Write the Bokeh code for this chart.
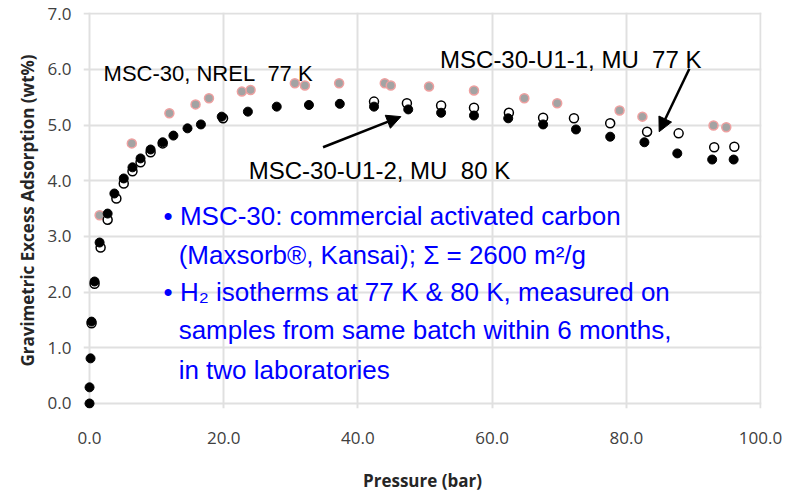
import math
from bokeh.plotting import figure
from bokeh.models import Range1d, FixedTicker, NumeralTickFormatter, Arrow, NormalHead, Label
from bokeh.embed import file_html
from bokeh.resources import INLINE

# ---- data ----
x_ticks = [0, 20, 40, 60, 80, 100]
y_ticks = [0, 1, 2, 3, 4, 5, 6, 7]

# MSC-30, NREL 77 K
nrel_p = [1.5, 6.3, 11.9, 15.8, 17.8, 22.7, 24.0, 30.6, 32.1, 37.2, 44.0, 44.9,
          50.6, 57.3, 64.8, 69.7, 79.0, 82.4, 93.0, 94.9]
nrel_w = [3.38, 4.67, 5.21, 5.37, 5.48, 5.60, 5.63, 5.75, 5.71, 5.75, 5.75, 5.71,
          5.69, 5.62, 5.48, 5.39, 5.26, 5.15, 4.99, 4.96]

# MSC-30-U1-1, MU 77 K (open circles)
u11_p = [0.3, 0.75, 1.65, 2.7, 4.0, 5.1, 6.4, 7.6, 9.1, 10.9, 19.9, 42.4, 47.3,
         52.4, 57.3, 62.5, 67.6, 72.2, 77.6, 83.1, 87.8, 93.1, 96.1]
u11_w = [1.44, 2.15, 2.80, 3.30, 3.68, 3.95, 4.17, 4.33, 4.51, 4.67, 5.12, 5.42, 5.39,
         5.35, 5.31, 5.22, 5.13, 5.12, 5.03, 4.88, 4.85, 4.60, 4.61]

# MSC-30-U1-2, MU 80 K (filled black)
u12_p = [0.0, 0.0, 0.15, 0.3, 0.75, 1.5, 2.7, 3.7, 5.1, 6.4, 7.6, 9.1, 10.9, 12.5,
         14.6, 16.6, 19.7, 23.6, 27.9, 32.7, 37.3, 42.4, 47.5, 52.4, 57.3, 62.4,
         67.6, 72.5, 77.6, 82.7, 87.6, 92.8, 96.0]
u12_w = [0.0, 0.29, 0.81, 1.47, 2.19, 2.89, 3.41, 3.77, 4.04, 4.24, 4.40, 4.56, 4.69, 4.81,
         4.94, 5.01, 5.15, 5.24, 5.33, 5.36, 5.38, 5.33, 5.28, 5.22, 5.17, 5.12,
         5.01, 4.92, 4.79, 4.69, 4.49, 4.38, 4.38]

NB = "\u00a0"
series_labels = ["MSC-30, NREL" + NB + NB + "77 K",
                 "MSC-30-U1-1, MU" + NB + NB + "77 K",
                 "MSC-30-U1-2, MU" + NB + NB + "80 K"]
notes = ["\u2022 MSC-30: commercial activated carbon",
         "(Maxsorb\u00ae, Kansai); \u03a3 = 2600 m\u00b2/g",
         "\u2022 H\u2082 isotherms at 77 K & 80 K, measured on",
         "samples from same batch within 6 months,",
         "in two laboratories"]

p = figure(width=798, height=494, output_backend="svg", toolbar_location=None,
           x_range=Range1d(-0.9, 100.15), y_range=Range1d(-0.09, 7.02),
           min_border_left=83, min_border_right=37, min_border_top=12, min_border_bottom=86)
p.outline_line_color = None
p.background_fill_color = "white"
p.border_fill_color = "white"

for ax in (p.xaxis[0], p.yaxis[0]):
    ax.axis_line_color = None
    ax.major_tick_line_color = None
    ax.minor_tick_line_color = None
    ax.major_label_text_font = "Open Sans"
    ax.major_label_text_font_size = "17px"
    ax.major_label_text_color = "#404040"
    ax.formatter = NumeralTickFormatter(format="0.0")
    ax.axis_label_text_font = "Open Sans"
    ax.axis_label_text_font_style = "bold"
    ax.axis_label_text_font_size = "17px"
    ax.axis_label_text_color = "#262626"

p.xaxis.ticker = FixedTicker(ticks=x_ticks)
p.yaxis.ticker = FixedTicker(ticks=y_ticks)
p.xaxis.major_label_standoff = 17
p.yaxis.major_label_standoff = 6
p.xaxis.axis_label = "Pressure (bar)"
p.xaxis.axis_label_standoff = 22
p.yaxis.axis_label = "Gravimetric Excess Adsorption (wt%)"
p.yaxis.axis_label_standoff = 6

p.grid.grid_line_color = "#e0e0e0"
p.grid.grid_line_width = 2
p.xgrid.ticker = FixedTicker(ticks=x_ticks)
p.ygrid.ticker = FixedTicker(ticks=y_ticks)

# markers
p.scatter(nrel_p, nrel_w, size=9, fill_color="#a3a3a3", line_color="#eea0a0", line_width=1.5)
p.scatter(u11_p, u11_w, size=9, fill_color="white", line_color="black", line_width=1.5)
p.scatter(u12_p, u12_w, size=9, fill_color="black", line_color="black", line_width=1)

# series annotations
p.add_layout(Label(x=2.09, y=5.92, text=series_labels[0], text_font="Liberation Sans",
                   text_font_size="22px", text_color="black", text_baseline="alphabetic"))
p.add_layout(Label(x=52.24, y=6.18, text=series_labels[1], text_font="Liberation Sans",
                   text_font_size="24px", text_color="black", text_baseline="alphabetic"))
p.add_layout(Label(x=23.73, y=4.18, text=series_labels[2], text_font="Liberation Sans",
                   text_font_size="24px", text_color="black", text_baseline="alphabetic"))

p.add_layout(Arrow(x_start=34.8, y_start=4.60, x_end=46.4, y_end=5.15, line_width=2.5,
                   line_color="black",
                   end=NormalHead(size=14, fill_color="black", line_color="black")))
p.add_layout(Arrow(x_start=89.4, y_start=6.01, x_end=84.9, y_end=4.88, line_width=2.5,
                   line_color="black",
                   end=NormalHead(size=14, fill_color="black", line_color="black")))

# blue notes
note_x = [11.04, 13.28, 11.04, 13.28, 13.28]
note_y = [3.375, 2.675, 1.993, 1.311, 0.610]
for tx, ty, t in zip(note_x, note_y, notes):
    p.add_layout(Label(x=tx, y=ty, text=t, text_font="Liberation Sans", text_font_size="26px",
                       text_color="#0000ff", text_baseline="alphabetic"))

open("out.html", "w").write(file_html(p, INLINE))
